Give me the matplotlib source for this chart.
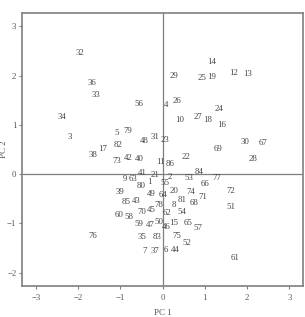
import numpy as np
import matplotlib
matplotlib.use("Agg")
import matplotlib.pyplot as plt

# case numbers and their scores on the first two components
ids = list(range(1, 87))
pc1 = [-0.32, 0.17, -2.19, 0.08, -1.08, 0.08, -0.42, 0.27, -0.89, 0.41,
       -0.06, 1.69, 2.02, 1.17, 0.27, 1.40, -1.41, 1.07, 1.17, 0.27,
       -0.18, 0.55, 0.05, 1.33, 0.93, 0.34, 0.83, 2.13, 0.27, 1.95,
       -0.18, -1.96, -1.58, -2.38, -0.49, -1.67, -0.18, -1.65, -1.01, -0.56,
       -0.49, -0.82, -0.63, 0.29, -0.28, 0.08, -0.30, -0.44, -0.28, -0.09,
       1.61, 0.57, 0.62, 0.46, 0.05, -0.56, 0.83, -0.80, -0.56, -1.03,
       1.71, 0.10, -0.70, 0.01, 0.60, 1.00, 2.37, 0.74, 1.31, -0.49,
       0.95, 1.61, -1.08, 0.67, 0.34, -1.65, 1.28, -0.09, -0.82, -0.51,
       0.46, -1.06, -0.13, 0.86, -0.87, 0.17]
pc2 = [-0.16, -0.05, 0.76, 1.41, 0.84, -1.53, -1.56, -0.62, -0.10, 1.10,
       0.25, 2.06, 2.03, 2.28, -0.99, 1.00, 0.51, 1.10, 1.97, -0.34,
       -0.01, 0.35, 0.70, 1.32, 1.95, 1.49, 1.16, 0.31, 1.99, 0.66,
       0.76, 2.46, 1.61, 1.16, -1.27, 1.85, -1.56, 0.39, -0.36, 0.31,
       0.03, 0.33, -0.54, -1.54, -0.72, -1.07, -1.03, 0.68, -0.40, -0.97,
       -0.66, -1.39, -0.08, -0.76, -0.18, 1.43, -1.09, -0.87, -1.01, -0.83,
       -1.70, -0.78, -0.10, -0.42, -0.99, -0.20, 0.63, -0.58, 0.51, -0.76,
       -0.46, -0.34, 0.27, -0.36, -1.25, -1.25, -0.08, -0.62, 0.88, -0.24,
       -0.52, 0.59, -1.27, 0.05, -0.56, 0.21]
ticks = [-3, -2, -1, 0, 1, 2, 3]
yticks = [-2, -1, 0, 1, 2, 3]

plt.rcParams['font.family'] = 'Liberation Serif'
grey = '#7f7f7f'

fig = plt.figure(figsize=(3.05, 3.17), dpi=100)
ax = fig.add_axes([0.072, 0.098, 0.921, 0.862])

for i, x, y in zip(ids, pc1, pc2):
    ax.text(x, y, str(i), fontsize=6.3, color='#444444', ha='center', va='center')

ax.axhline(0, color=grey, lw=0.9)
ax.axvline(0, color=grey, lw=0.9)

ax.set_xlim(-3.33, 3.32)
ax.set_ylim(-2.27, 3.28)
ax.set_xticks(ticks)
ax.set_yticks(yticks)
for s in ax.spines.values():
    s.set_color(grey)
    s.set_linewidth(1.2)
ax.tick_params(colors=grey, labelcolor='#555555', labelsize=6.3, length=2.5, width=0.8, pad=1.5)
ax.tick_params(axis='x', pad=3)
ax.set_xlabel('PC 1', fontsize=6.5, color='#555555')
ax.set_ylabel('PC 2', fontsize=6.5, color='#555555')
ax.xaxis.set_label_coords(0.5, -0.085)
ax.yaxis.set_label_coords(-0.05, 0.5)

fig.savefig('out.png', dpi=100)
